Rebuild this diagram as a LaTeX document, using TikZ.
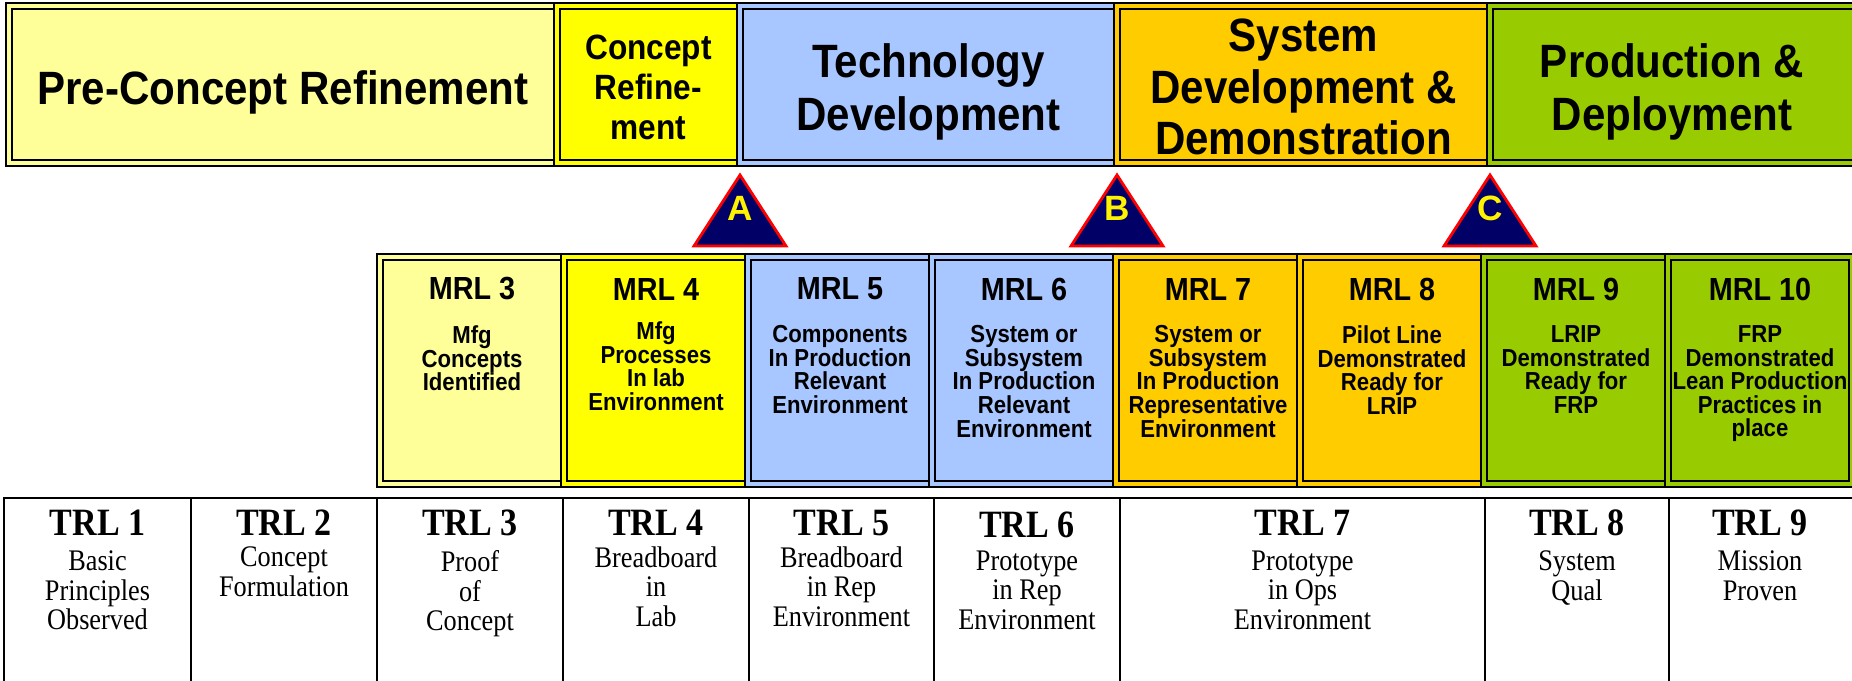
\documentclass[tikz,border=0pt]{standalone}
\usepackage{fontspec}
\setmainfont{Liberation Serif}[FakeStretch=0.88]
\setsansfont{Liberation Sans}[FakeStretch=0.9]
\newfontfamily\msfont{Liberation Sans}
\usetikzlibrary{positioning}

\definecolor{paleyellow}{HTML}{FFFF99}
\definecolor{lemon}{HTML}{FFFF00}
\definecolor{periwinkle}{HTML}{A8C6FF}
\definecolor{amber}{HTML}{FFCC00}
\definecolor{leaf}{HTML}{99CC00}
\definecolor{msnavy}{HTML}{000066}

\tikzset{
  phase/.style={draw=black, line width=0.6pt, double=#1, double distance=1.1pt, fill=#1,
    inner sep=0pt, minimum height=15.7mm},
  phasetext/.style={inner sep=0pt, align=center,
    font=\sffamily\bfseries\fontsize{13.3}{15.1}\selectfont},
  mrlbox/.style={draw=black, line width=0.6pt, double=#1, double distance=1.1pt, fill=#1,
    minimum width=18.4mm, minimum height=22.7mm, inner sep=0pt},
  mrlhead/.style={inner sep=0pt, font=\sffamily\bfseries\fontsize{9.1}{10}\selectfont},
  mrldesc/.style={anchor=north, align=center, inner sep=0pt,
    font=\sffamily\bfseries\fontsize{7}{6.7}\selectfont},
  trlbox/.style={draw=black, line width=0.8pt, minimum height=20.2mm, inner sep=0pt},
  trlhead/.style={inner sep=0pt, font=\bfseries\fontsize{11}{12}\selectfont},
  trldesc/.style={anchor=north, align=center, inner sep=0pt,
    font=\fontsize{8.5}{8.4}\selectfont},
  milestone/.style={draw=red, line width=0.8pt, fill=msnavy},
  mslabel/.style={inner sep=0pt, text=yellow, font=\msfont\bfseries\fontsize{10}{12}\selectfont}
}

\begin{document}
\begin{tikzpicture}[x=0.1mm, y=-0.1mm]
  \useasboundingbox (0,0) rectangle (1852,681);

  % acquisition phases
  \node[phase=paleyellow, minimum width=54.8mm] (precon) at (283,84.5) {};
  \node[phasetext] (precont) at (283,92) {Pre-Concept Refinement};
  \node[phase=lemon, minimum width=18.3mm] (conref) at (648.5,84.5) {};
  \node[phasetext, font=\sffamily\bfseries\fontsize{10}{11.45}\selectfont]
    (conreft) at (648.5,87.5) {Concept\\Refine-\\ment};
  \node[phase=periwinkle, minimum width=37.7mm] (techdev) at (928.5,84.5) {};
  \node[phasetext] (techdevt) at (928.5,91.5) {Technology\\Development};
  \node[phase=amber, minimum width=37.3mm] (sysdev) at (1303.5,84.5) {};
  \node[phasetext, font=\sffamily\bfseries\fontsize{13.3}{14.6}\selectfont]
    (sysdevt) at (1303.5,87) {System\\Development \&\\Demonstration};
  \node[phase=leaf, minimum width=37.2mm] (proddep) at (1676,84.5) {};
  \node[phasetext] (proddept) at (1672,91.5) {Production \&\\Deployment};

  % milestones
  \draw[milestone] (694,246) -- (740,175) -- (786,246) -- cycle;
  \node[mslabel] (msA) at (740,208) {A};
  \draw[milestone] (1071,246) -- (1117,175) -- (1163,246) -- cycle;
  \node[mslabel] (msB) at (1117,208) {B};
  \draw[milestone] (1444,246) -- (1490,175) -- (1536,246) -- cycle;
  \node[mslabel] (msC) at (1490,208) {C};

  % manufacturing readiness levels
  \node[mrlbox=paleyellow] (mrl3) at (472,370.5) {};
  \node[mrlhead] (mrl3h) at (472,289) {MRL 3};
  \node[mrldesc] (mrl3d) at (472,325) {Mfg\\Concepts\\Identified};

  \node[mrlbox=lemon] (mrl4) at (656,370.5) {};
  \node[mrlhead] (mrl4h) at (656,289) {MRL 4};
  \node[mrldesc] (mrl4d) at (656,321) {Mfg\\Processes\\In lab\\Environment};

  \node[mrlbox=periwinkle] (mrl5) at (840,370.5) {};
  \node[mrlhead] (mrl5h) at (840,289) {MRL 5};
  \node[mrldesc] (mrl5d) at (840,325) {Components\\In Production\\Relevant\\Environment};

  \node[mrlbox=periwinkle] (mrl6) at (1024,370.5) {};
  \node[mrlhead] (mrl6h) at (1024,289) {MRL 6};
  \node[mrldesc] (mrl6d) at (1024,325) {System or\\Subsystem\\In Production\\Relevant\\Environment};

  \node[mrlbox=amber] (mrl7) at (1208,370.5) {};
  \node[mrlhead] (mrl7h) at (1208,289) {MRL 7};
  \node[mrldesc] (mrl7d) at (1208,325) {System or\\Subsystem\\In Production\\Representative\\Environment};

  \node[mrlbox=amber] (mrl8) at (1392,370.5) {};
  \node[mrlhead] (mrl8h) at (1392,289) {MRL 8};
  \node[mrldesc] (mrl8d) at (1392,325) {Pilot Line\\Demonstrated\\Ready for\\LRIP};

  \node[mrlbox=leaf] (mrl9) at (1576,370.5) {};
  \node[mrlhead] (mrl9h) at (1576,289) {MRL 9};
  \node[mrldesc] (mrl9d) at (1576,325) {LRIP\\Demonstrated\\Ready for\\FRP};

  \node[mrlbox=leaf] (mrl10) at (1760,370.5) {};
  \node[mrlhead] (mrl10h) at (1760,289) {MRL 10};
  \node[mrldesc] (mrl10d) at (1760,325) {FRP\\Demonstrated\\Lean Production\\Practices in\\place};

  % technology readiness levels
  \node[trlbox, minimum width=18.7mm] (trl1) at (97.5,599) {};
  \node[trlhead] (trl1h) at (97.5,523) {TRL 1};
  \node[trldesc] (trl1d) at (97.5,550) {Basic\\Principles\\Observed};

  \node[trlbox, minimum width=18.6mm] (trl2) at (284,599) {};
  \node[trlhead] (trl2h) at (284,523) {TRL 2};
  \node[trldesc] (trl2d) at (284,546) {Concept\\Formulation};

  \node[trlbox, minimum width=18.6mm] (trl3) at (470,599) {};
  \node[trlhead] (trl3h) at (470,523) {TRL 3};
  \node[trldesc] (trl3d) at (470,550) {Proof\\of\\Concept};

  \node[trlbox, minimum width=18.6mm] (trl4) at (656,599) {};
  \node[trlhead] (trl4h) at (656,523) {TRL 4};
  \node[trldesc] (trl4d) at (656,546) {Breadboard\\in\\Lab};

  \node[trlbox, minimum width=18.5mm] (trl5) at (841.5,599) {};
  \node[trlhead] (trl5h) at (841.5,523) {TRL 5};
  \node[trldesc] (trl5d) at (841.5,546) {Breadboard\\in Rep\\Environment};

  \node[trlbox, minimum width=18.6mm] (trl6) at (1027,599) {};
  \node[trlhead] (trl6h) at (1027,525) {TRL 6};
  \node[trldesc] (trl6d) at (1027,550) {Prototype\\in Rep\\Environment};

  \node[trlbox, minimum width=36.5mm] (trl7) at (1302.5,599) {};
  \node[trlhead] (trl7h) at (1302.5,523) {TRL 7};
  \node[trldesc] (trl7d) at (1302.5,550) {Prototype\\in Ops\\Environment};

  \node[trlbox, minimum width=18.4mm] (trl8) at (1577,599) {};
  \node[trlhead] (trl8h) at (1577,523) {TRL 8};
  \node[trldesc] (trl8d) at (1577,550) {System\\Qual};

  \node[trlbox, minimum width=19.3mm] (trl9) at (1765.5,599) {};
  \node[trlhead] (trl9h) at (1760,523) {TRL 9};
  \node[trldesc] (trl9d) at (1760,550) {Mission\\Proven};
\end{tikzpicture}
\end{document}
